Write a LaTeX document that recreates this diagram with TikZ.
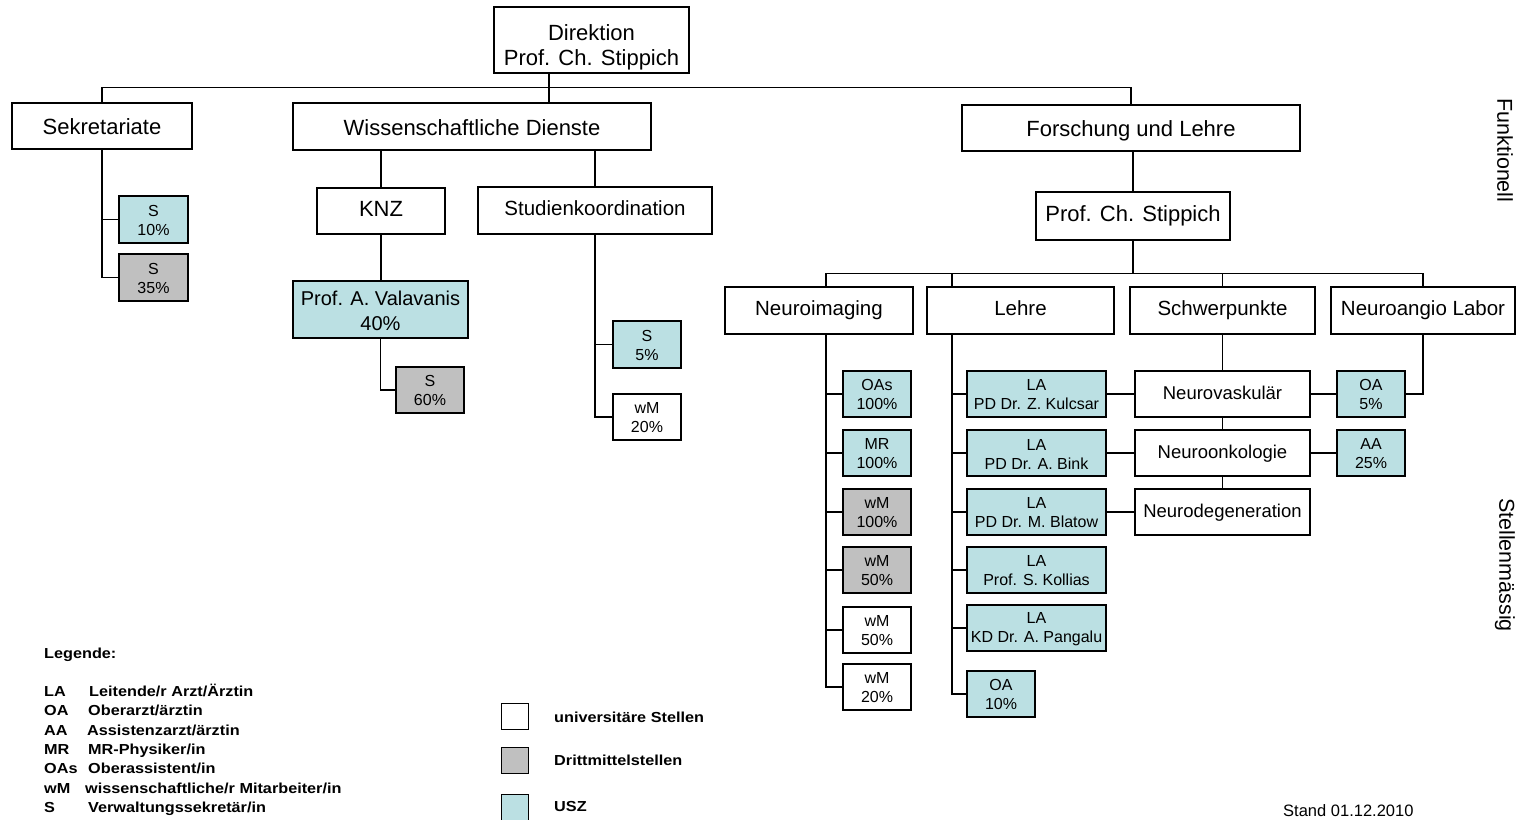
\documentclass[tikz,border=0pt]{standalone}
\usepackage{fontspec}
\setmainfont{Liberation Sans}
\newfontfamily\legfont[FakeStretch=1.12]{Liberation Sans}
\definecolor{usz}{HTML}{BBE0E3}
\definecolor{dritt}{HTML}{C0C0C0}
\newcommand\myvc[2]{\rule[-#2pt]{0pt}{#1pt}}
\begin{document}
\begin{tikzpicture}[x=1pt,y=-1pt,
  box/.style={draw=black, line width=1.4pt, inner sep=0pt, align=center, fill=white},
  big/.style={box, font=\fontsize{22}{25}\selectfont},
  mid/.style={box, font=\fontsize{20.5}{25}\selectfont},
  med/.style={box, font=\fontsize{18.5}{22}\selectfont},
  sm/.style={box, font=\fontsize{16}{19}\selectfont},
  cy/.style={fill=usz},
  gr/.style={fill=dritt},
  ln/.style={line width=1.4pt, draw=black},
  leg/.style={font=\legfont\fontsize{14.5}{17}\selectfont\bfseries, anchor=west, inner sep=0pt, text height=11pt, text depth=3pt},
  side/.style={rotate=-90, inner sep=0pt, font=\fontsize{21.5}{24}\selectfont},
]
\useasboundingbox (0,0) rectangle (1533,819);
\fill[white] (0,0) rectangle (1533,819);

% top levels
\node[big, minimum width=195, minimum height=66] (dir) at (591.5,40) {\rule{0pt}{30pt}Direktion\\Prof. Ch. Stippich};
\node[big, minimum width=180, minimum height=46] (sek) at (102,126) {\myvc{28}{5.2}Sekretariate};
\node[big, minimum width=358, minimum height=47] (wd) at (472,126.5) {\myvc{28}{5.2}Wissenschaftliche Dienste};
\node[big, minimum width=338, minimum height=46] (fl) at (1131,128) {\myvc{28}{5.2}Forschung und Lehre};
\node[big, minimum width=128, minimum height=46] (knz) at (381,211) {\myvc{21}{5.2}KNZ};
\node[mid, minimum width=234, minimum height=47] (stk) at (595,210.5) {\myvc{20}{5.3}Studienkoordination};
\node[big, minimum width=194, minimum height=48] (stp) at (1133,216) {\myvc{21}{5.2}Prof. Ch. Stippich};
\node[box, cy, font=\fontsize{20}{25}\selectfont, minimum width=175, minimum height=57] (val) at (380.5,309.5) {\rule{0pt}{17pt}Prof. A. Valavanis\\40\%};

% small boxes left
\node[sm, cy, minimum width=69, minimum height=47] (s10) at (153.5,219.5) {\rule{0pt}{13pt}S\\10\%};
\node[sm, gr, minimum width=69, minimum height=47] (s35) at (153.5,277.5) {\rule{0pt}{13pt}S\\35\%};
\node[sm, gr, minimum width=68, minimum height=46] (s60) at (430,390) {\rule{0pt}{13pt}S\\60\%};
\node[sm, cy, minimum width=68, minimum height=47] (s5) at (647,344.5) {\rule{0pt}{13pt}S\\5\%};
\node[sm, minimum width=68, minimum height=46] (wmz) at (647,417) {\rule{0pt}{13pt}wM\\20\%};

% second level right
\node[mid, minimum width=188, minimum height=47] (ni) at (819,310.5) {\myvc{20}{5.3}Neuroimaging};
\node[mid, minimum width=187, minimum height=47] (le) at (1020.5,310.5) {\myvc{20}{5.3}Lehre};
\node[mid, minimum width=185, minimum height=47] (sp) at (1222.5,310.5) {\myvc{20}{5.3}Schwerpunkte};
\node[mid, minimum width=184, minimum height=47] (nal) at (1423,310.5) {\myvc{20}{5.3}Neuroangio Labor};

% Neuroimaging children
\node[sm, cy, minimum width=68, minimum height=46] (oas) at (877,394) {\rule{0pt}{13pt}OAs\\100\%};
\node[sm, cy, minimum width=68, minimum height=46] (mr) at (877,453) {\rule{0pt}{13pt}MR\\100\%};
\node[sm, gr, minimum width=68, minimum height=46] (wma) at (877,512) {\rule{0pt}{13pt}wM\\100\%};
\node[sm, gr, minimum width=68, minimum height=46] (wmb) at (877,570) {\rule{0pt}{13pt}wM\\50\%};
\node[sm, minimum width=68, minimum height=46] (wmc) at (877,630) {\rule{0pt}{13pt}wM\\50\%};
\node[sm, minimum width=68, minimum height=46] (wmd) at (877,687) {\rule{0pt}{13pt}wM\\20\%};

% Lehre children
\node[sm, cy, minimum width=139, minimum height=46] (kul) at (1036.5,394) {\rule{0pt}{13pt}LA\\PD Dr. Z. Kulcsar};
\node[sm, cy, minimum width=139, minimum height=46] (bink) at (1036.5,453) {\rule{0pt}{13pt}LA\\PD Dr. A. Bink};
\node[sm, cy, minimum width=139, minimum height=46] (blat) at (1036.5,512) {\rule{0pt}{13pt}LA\\PD Dr. M. Blatow};
\node[sm, cy, minimum width=139, minimum height=46] (koll) at (1036.5,570) {\rule{0pt}{13pt}LA\\Prof. S. Kollias};
\node[sm, cy, minimum width=139, minimum height=46] (pang) at (1036.5,628) {\rule{0pt}{13pt}LA\\KD Dr. A. Pangalu};
\node[sm, cy, minimum width=68, minimum height=46] (oaz) at (1001,694) {\rule{0pt}{13pt}OA\\10\%};

% Schwerpunkte children
\node[med, minimum width=175, minimum height=46] (nv) at (1222.5,394) {\myvc{20}{4.8}Neurovaskulär};
\node[med, minimum width=175, minimum height=46] (no) at (1222.5,453) {\myvc{20}{4.8}Neuroonkologie};
\node[med, minimum width=175, minimum height=46] (nd) at (1222.5,512) {\myvc{20}{4.8}Neurodegeneration};
\node[sm, cy, minimum width=68, minimum height=46] (oaf) at (1371,394) {\rule{0pt}{13pt}OA\\5\%};
\node[sm, cy, minimum width=68, minimum height=46] (aa) at (1371,453) {\rule{0pt}{13pt}AA\\25\%};

% connectors
\draw[ln] ([xshift=-42.5]dir.south) -- ([xshift=77]wd.north);
\draw[ln] (sek.north) -- ++(0,-15) -| (fl.north);
\draw[ln] (sek.south) |- (s10.west);
\draw[ln] (sek.south) |- (s35.west);
\draw[ln] (knz.north |- wd.south) -- (knz.north);
\draw[ln] (stk.north |- wd.south) -- (stk.north);
\draw[ln] (knz.south) -- (knz.south |- val.north);
\draw[ln] (val.south) |- (s60.west);
\draw[ln] (stk.south) |- (s5.west);
\draw[ln] (stk.south) |- (wmz.west);
\draw[ln] (stp.north |- fl.south) -- (stp.north);
\draw[ln] (stp.south) -- ++(0,33) coordinate (hb);
\coordinate (nitop) at ([xshift=7]ni.north);
\coordinate (letop) at ([xshift=-68.5]le.north);
\draw[ln] (nitop) |- (hb) -| (nal.north);
\draw[ln] (letop) -- (letop |- hb);
\draw[ln] (sp.north) -- (sp.north |- hb);
\coordinate (nit) at ([xshift=7]ni.south);
\foreach \c in {oas,mr,wma,wmb,wmc,wmd} \draw[ln] (nit) |- (\c.west);
\coordinate (let) at ([xshift=-68.5]le.south);
\foreach \c in {kul,bink,blat,koll,pang,oaz} \draw[ln] (let) |- (\c.west);
\draw[ln] (sp.south) -- (nv.north);
\draw[ln] (nv.south) -- (no.north);
\draw[ln] (no.south) -- (nd.north);
\draw[ln] (kul.east) -- (nv.west);
\draw[ln] (bink.east) -- (no.west);
\draw[ln] (blat.east) -- (nd.west);
\draw[ln] (nv.east) -- (oaf.west);
\draw[ln] (no.east) -- (aa.west);
\draw[ln] (nal.south) |- (oaf.east);

% side labels
\node[side] (funk) at (1505,150.5) {Funktionell};
\node[side] (stell) at (1505,565) {Stellenmässig};

% legend
\node[leg] (lg) at (44,654) {Legende:};
\node[leg] (la1) at (44,692) {LA}; \node[leg] (la2) at (89,692) {Leitende/r Arzt/Ärztin};
\node[leg] (oa1) at (44,711) {OA}; \node[leg] (oa2) at (88,711) {Oberarzt/ärztin};
\node[leg] (aa1) at (44,731) {AA}; \node[leg] (aa2) at (87,731) {Assistenzarzt/ärztin};
\node[leg] (mr1) at (44,750) {MR}; \node[leg] (mr2) at (88,750) {MR-Physiker/in};
\node[leg] (os1) at (44,769) {OAs}; \node[leg] (os2) at (88,769) {Oberassistent/in};
\node[leg] (wm1) at (44,789) {wM}; \node[leg] (wm2) at (85,789) {wissenschaftliche/r Mitarbeiter/in};
\node[leg] (sv1) at (44,808) {S}; \node[leg] (sv2) at (88,808) {Verwaltungssekretär/in};

\node[box, line width=1pt, minimum width=27, minimum height=26] (lu) at (514.5,716) {};
\node[box, gr, line width=1pt, minimum width=27, minimum height=26] (ld) at (514.5,760) {};
\node[box, cy, line width=1pt, minimum width=27, minimum height=28] (lz) at (514.5,808) {};
\node[leg] (lut) at (554,718) {universitäre Stellen};
\node[leg] (ldt) at (554,761) {Drittmittelstellen};
\node[leg] (lzt) at (554,807) {USZ};

\node[anchor=south west, inner sep=0pt, font=\fontsize{16.5}{20}\selectfont] (stand) at (1283,817) {Stand 01.12.2010};
\end{tikzpicture}
\end{document}
